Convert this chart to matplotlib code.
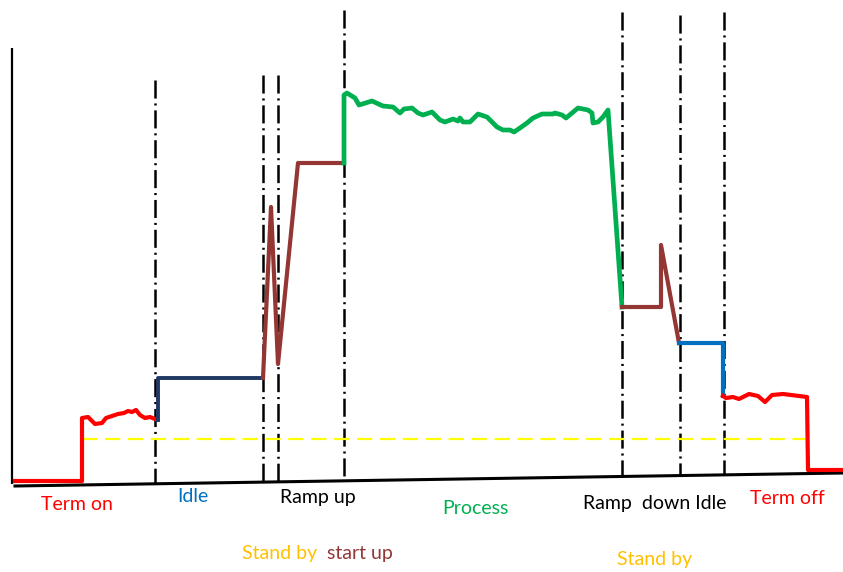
import matplotlib
matplotlib.use("Agg")
import matplotlib.pyplot as plt

# coordinates in pixel units (y grows downward)
term_on_x = [15, 82, 82, 88, 95, 102, 106, 112, 118, 124, 128, 132, 136, 140, 145, 150, 155]
term_on_y = [481, 481, 418, 417, 424, 423, 418, 416, 414, 413, 411, 412, 410, 415, 418, 417, 419]

idle_x = [158, 158, 263]
idle_y = [420, 378, 378]

startup_x = [263, 271, 278, 298, 344]
startup_y = [378, 207, 364, 163, 163]

process_x = [344, 344, 347, 355, 359, 372, 383, 393, 400, 404, 412, 418, 423, 432, 440, 445,
             453, 458, 460, 463, 470, 473, 478, 487, 497, 503, 510, 514, 520, 527, 533, 542,
             553, 555, 562, 566, 572, 578, 588, 592, 593, 598, 603, 608, 622]
process_y = [163, 95, 93, 98, 105, 101, 106, 107, 113, 109, 108, 113, 115, 112, 120, 122,
             119, 121, 118, 122, 122, 119, 114, 117, 127, 130, 130, 132, 128, 123, 118, 114,
             114, 113, 115, 118, 113, 108, 110, 113, 123, 122, 117, 110, 307]

rampdown_x = [622, 661, 661, 679]
rampdown_y = [307, 307, 245, 343]

idle2_x = [679, 723, 723]
idle2_y = [343, 343, 396]

term_off_x = [723, 726, 733, 739, 749, 758, 765, 772, 783, 807, 808, 843]
term_off_y = [396, 398, 397, 399, 394, 396, 402, 395, 394, 397, 470, 470]

standby_level = 439
standby_x = [82, 805]

phase_x = [155, 263, 278, 344, 622, 680, 724]
phase_top = [80, 75, 75, 10, 12, 15, 12]

labels = [
    ("Term on", 77, 505, "#ff0000"),
    ("Idle", 193, 496, "#0070c0"),
    ("Ramp up", 318, 497, "black"),
    ("Process", 475, 509, "#00b050"),
    ("Ramp  down Idle", 655, 504, "black"),
    ("Term off", 787, 498, "#ff0000"),
    ("Stand by", 280, 553, "#ffc000"),
    ("start up", 360, 553, "#943634"),
    ("Stand by", 655, 560, "#ffc000"),
]

plt.rcParams["lines.scale_dashes"] = False
plt.rcParams["font.family"] = ["Lato", "DejaVu Sans"]

fig = plt.figure(figsize=(8.43, 5.72), dpi=100)
ax = fig.add_axes([0, 0, 1, 1])
ax.set_xlim(0, 843)
ax.set_ylim(572, 0)
ax.axis("off")

# axes drawn by hand (the baseline is slightly tilted)
ax.plot([12, 12], [48, 484], color="black", lw=1.6, solid_capstyle="butt")
ax.plot([15, 843], [486, 473], color="black", lw=2.2)

# phase boundaries
for x, top in zip(phase_x, phase_top):
    bottom = 486 - (x - 15) * 13 / 828
    ax.plot([x, x], [top, bottom], color="black", lw=1.8,
            linestyle=(0, (13, 3.5, 1.5, 3.5)))

ax.plot(standby_x, [standby_level] * 2, color="#ffff00", lw=1.6,
        linestyle=(0, (11, 5.5)))

ax.plot(term_on_x, term_on_y, color="#ff0000", lw=3)
ax.plot(idle_x, idle_y, color="#1f3864", lw=2.8)
ax.plot(startup_x, startup_y, color="#943634", lw=3)
ax.plot(process_x, process_y, color="#00b050", lw=3.4)
ax.plot(rampdown_x, rampdown_y, color="#943634", lw=3)
ax.plot(idle2_x, idle2_y, color="#0070c0", lw=3)
ax.plot(term_off_x, term_off_y, color="#ff0000", lw=3)

for text, x, y, color in labels:
    ax.text(x, y, text, color=color, fontsize=14, ha="center", va="center")

fig.savefig("out.png", dpi=100)
